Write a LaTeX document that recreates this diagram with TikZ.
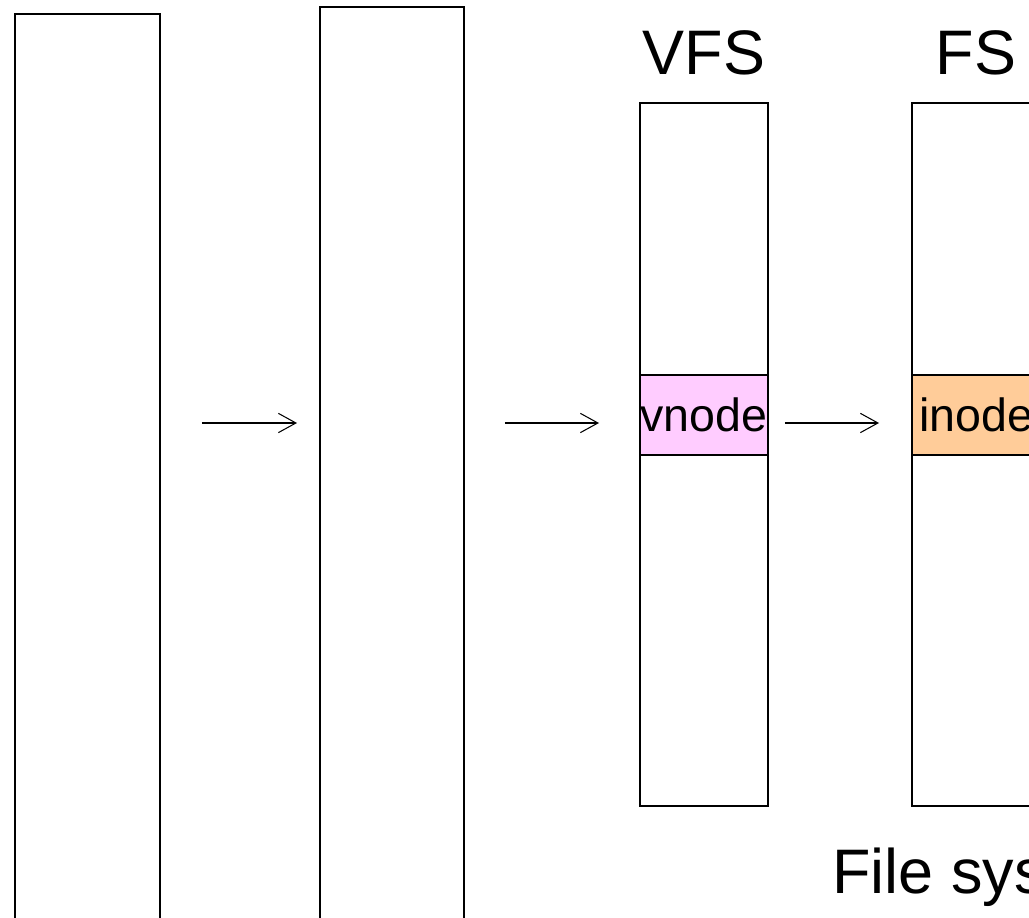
\documentclass[tikz,border=0pt]{standalone}
\usepackage{fontspec}
\setmainfont{Liberation Sans}
\usetikzlibrary{arrows.meta,positioning}

\begin{document}
\begin{tikzpicture}[x=0.02cm,y=-0.02cm,
	layer/.style={draw,line width=0.8pt,inner sep=0pt,outer sep=0pt,anchor=north west},
	entry/.style={draw,line width=0.8pt,inner sep=0pt,outer sep=0pt,minimum width=2.56cm,minimum height=1.6cm,font=\fontsize{26.5}{30}\selectfont},
	title/.style={inner sep=0pt,font=\fontsize{35.8}{40}\selectfont},
	call/.style={line width=0.6pt,-{Straight Barb[length=10pt,width=11pt]}}]
	\useasboundingbox (0,0) rectangle (1029,918);
	\clip (0,0) rectangle (1029,918);
	
	% layers
	\node[layer,minimum width=2.9cm,minimum height=18.92cm] (proc) at (15,14) {};
	\node[layer,minimum width=2.88cm,minimum height=19.06cm] (kern) at (320,7) {};
	\node[layer,minimum width=2.56cm,minimum height=14.06cm] (vfs) at (640,103) {};
	\node[layer,minimum width=2.56cm,minimum height=14.06cm] (fs) at (912,103) {};
	
	\node[above=0.56cm of vfs,title] {VFS};
	\node[above=0.56cm of fs,title] {FS};
	
	\node[entry,fill={rgb,255:red,255;green,204;blue,255}] (vnode) at (704,415) {vnode};
	\node[entry,fill={rgb,255:red,255;green,204;blue,153}] (inode) at (976,415) {inode};
	
	\node[title,anchor=base west] (caption) at (832,894) {File system};
	
	\coordinate (arr) at (0,423);
	\draw[call,shorten <=0.84cm,shorten >=0.46cm] (proc.east |- arr) -- (kern.west |- arr);
	\draw[call,shorten <=0.82cm,shorten >=0.82cm] (kern.east |- arr) -- (vfs.west |- arr);
	\draw[call,shorten <=0.34cm,shorten >=0.66cm] (vnode.east |- arr) -- (inode.west |- arr);
\end{tikzpicture}
\end{document}
